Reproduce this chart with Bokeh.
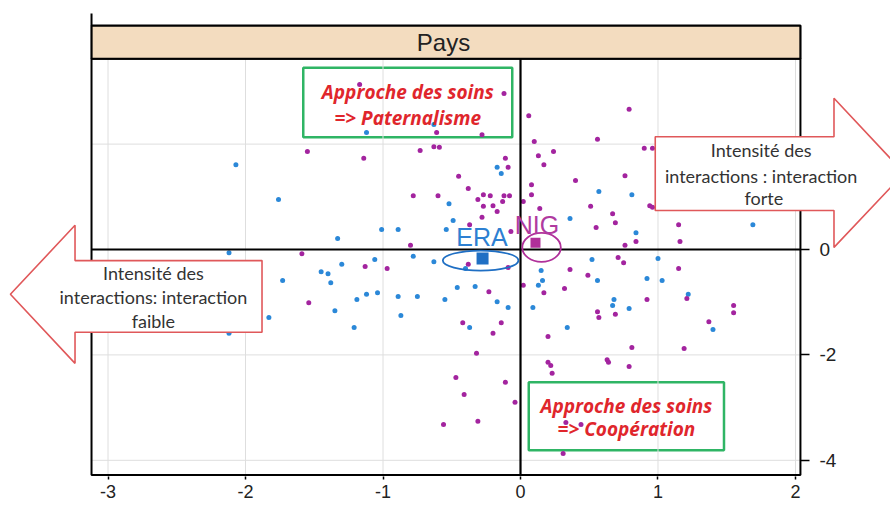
from bokeh.plotting import figure
from bokeh.models import FixedTicker, PolyAnnotation, Label, Range1d, LinearAxis
from bokeh.embed import file_html
from bokeh.resources import INLINE

# ---------------- data ----------------
x_ticks = [-3, -2, -1, 0, 1, 2]
x_tick_labels = ["-3", "-2", "-1", "0", "1", "2"]
y_ticks = [0, -2, -4]
y_tick_labels = ["0", "-2", "-4"]
grid_x = [-3, -2, -1, 1, 2]
grid_y = [2, -2, -4]

blue_x = [-1.12, -0.63, -2.07, -1.76, -0.52, -1.01, -0.89, -0.54, -1.33, -2.12,
          -0.78, -0.17, -0.14, 0.57, 0.81, -0.49, 0.36, 1.69, 0.84, -1.06,
          -0.63, -1.30, -1.45, -1.40, -1.38, -1.73, -1.19, -1.12, -1.04, -0.89,
          -0.75, -0.55, -1.35, -0.87, -1.83, -1.21, -2.12, 0.52, 1.00, 0.15,
          0.16, 0.13, 0.56, 0.92, 1.03, -0.46, -0.33, -0.17, -0.09, 0.09,
          0.68, 0.67, 0.79, 1.22, -0.37, 0.34, 1.40, -0.40]
blue_y = [2.22, 2.37, 1.61, 0.95, 0.87, 0.38, 0.38, 0.38, 0.21, -0.06,
          -0.13, 1.56, 1.44, 1.10, 1.04, 0.55, 0.59, 0.47, 0.32, -0.19,
          -0.23, -0.28, -0.42, -0.46, -0.63, -0.59, -0.95, -0.85, -0.82, -0.89,
          -0.89, -0.95, -1.16, -1.25, -1.29, -1.48, -1.59, -0.19, -0.17, -0.40,
          -0.59, -0.68, -0.59, -0.55, -0.59, -0.72, -0.70, -0.99, -1.10, -1.10,
          -0.95, -1.06, -1.12, -0.85, -1.48, -1.48, -1.52, -0.36]

mag_x = [-1.17, -0.61, -1.55, -1.14, -0.73, -0.63, -0.59, -0.78, -0.60, -0.80,
         -1.59, -0.12, 0.06, 0.79, -0.28, 0.10, 0.56, 0.13, 0.24, 0.90,
         0.96, 0.17, -0.11, -0.09, -0.45, 0.40, 0.76, 0.08, -0.38, -0.27,
         -0.22, -0.12, -0.08, 0.08, -0.31, -0.27, -0.20, -0.17, -0.13, 0.02,
         0.14, 0.51, 0.94, 0.96, -0.28, 0.67, 0.69, 1.15, -0.37, 0.55,
         0.84, 1.16, 0.76, -0.07, -1.13, -0.97, -1.54, -0.56, 0.71, 0.75,
         1.15, 0.36, 0.49, 0.02, 0.17, 0.32, -0.23, 0.92, 1.21, 1.55,
         1.55, 0.56, 0.57, 0.69, -0.42, -0.14, -0.20, 1.37, 0.20, 0.81,
         1.19, -0.32, 0.20, 0.22, 0.23, 0.63, 0.64, 0.79, -0.47, -0.11,
         -0.41, -0.04, -0.31, 0.33, 0.44, 0.31, -0.38, -0.09]
mag_y = [3.13, 2.22, 1.86, 1.73, 1.88, 1.95, 1.94, 1.02, 1.02, 0.08,
         -0.08, 2.96, 2.54, 2.66, 2.18, 2.05, 2.09, 1.78, 1.86, 1.92,
         1.92, 1.61, 1.73, 1.56, 1.39, 1.31, 1.40, 1.23, 1.16, 1.04,
         1.02, 1.02, 1.02, 1.04, 0.95, 0.82, 0.83, 0.72, 0.91, 0.91,
         0.78, 0.82, 0.83, 0.80, 0.61, 0.68, 0.51, 0.47, 0.47, 0.42,
         0.15, 0.15, 0.08, 0.34, -0.32, -0.36, -1.01, -3.32, -0.15, -0.25,
         -0.36, -0.38, -0.49, -0.68, -0.82, -0.74, -0.80, -0.95, -0.93, -1.06,
         -1.20, -1.18, -1.29, -1.23, -1.39, -1.39, -1.59, -1.37, -1.65, -1.86,
         -1.88, -1.97, -2.14, -2.20, -2.35, -2.09, -2.14, -2.22, -2.43, -2.52,
         -2.75, -2.90, -3.26, -3.28, -3.32, -3.87, -0.28, -0.34]

group_names = ["ERA", "NIG"]
group_cx = [-0.276, 0.109]
group_cy = [-0.17, 0.13]
ell_cx = [-0.29, 0.153]
ell_cy = [-0.21, 0.04]
ell_w = [0.55, 0.28]
ell_h = [0.38, 0.55]

# ---------------- styling / layout ----------------
BLUE = "#2b88d8"
MAG = "#a3249f"
BLUE_D = "#1f6fc4"
MAG_D = "#b0309a"
RED_TXT = "#e0262c"
GREEN = "#2fb565"
ARROW_RED = "#e0585a"
GRAY_TXT = "#333333"

# visible canvas range (frame covers whole canvas except bottom axis)
VX0, VX1 = -3.782, 2.691
VY0, VY1 = -4.307, 4.725
# plot box
BX0, BX1 = -3.12, 2.036
BY0, BY1 = -4.28, 3.62
STRIP_TOP = 4.25

p = figure(width=890, height=504, output_backend="svg", toolbar_location=None,
           x_range=Range1d(VX0, VX1), y_range=Range1d(VY0, VY1),
           y_axis_location=None,
           min_border_left=0, min_border_right=0,
           min_border_top=0, min_border_bottom=28)
p.background_fill_color = "white"
p.border_fill_color = "white"
p.outline_line_color = None
p.grid.visible = False

# bottom axis
xa = p.xaxis[0]
xa.ticker = FixedTicker(ticks=x_ticks)
xa.major_label_overrides = dict(zip(x_ticks, x_tick_labels))
xa.axis_line_color = None
xa.minor_tick_line_color = None
xa.major_tick_line_color = "black"
xa.major_tick_line_width = 1.5
xa.major_tick_in = 0
xa.major_tick_out = 3
xa.major_label_standoff = 5
xa.major_label_text_font = "Liberation Sans"
xa.major_label_text_font_size = "18px"
xa.major_label_text_color = "#222222"

# right axis fixed at the plot box edge
ya = LinearAxis(fixed_location=BX1, ticker=FixedTicker(ticks=y_ticks),
                major_label_overrides=dict(zip(y_ticks, y_tick_labels)),
                axis_line_color=None, minor_tick_line_color=None,
                major_tick_line_color="black", major_tick_line_width=1.5,
                major_tick_in=0, major_tick_out=9, major_label_standoff=10,
                major_label_text_font="Liberation Sans",
                major_label_text_font_size="19px",
                major_label_text_color="#222222")
p.add_layout(ya, "right")

# grid lines inside the box
p.segment(x0=grid_x, y0=[BY0] * len(grid_x), x1=grid_x, y1=[BY1] * len(grid_x),
          line_color="#dedede", line_width=1)
p.segment(x0=[BX0] * len(grid_y), y0=grid_y, x1=[BX1] * len(grid_y), y1=grid_y,
          line_color="#dedede", line_width=1)

# green boxes (outline only)
box_pat = ([-1.58, -0.06, -0.06, -1.58], [3.45, 3.45, 2.13, 2.13])
box_coop = ([0.06, 1.48, 1.48, 0.06], [-2.52, -2.52, -3.81, -3.81])
for bx, by in (box_pat, box_coop):
    p.add_layout(PolyAnnotation(xs=bx, ys=by, fill_color=None, fill_alpha=0,
                                line_color=GREEN, line_alpha=1.0, line_width=2.5,
                                level="underlay"))

# points
p.scatter(blue_x, blue_y, size=5, color=BLUE, line_color=None)
p.scatter(mag_x, mag_y, size=5, color=MAG, line_color=None)

# zero lines
p.segment(x0=[0], y0=[BY0], x1=[0], y1=[BY1], line_color="black", line_width=2.2)
p.segment(x0=[BX0], y0=[0], x1=[BX1], y1=[0], line_color="black", line_width=2.2)

# group ellipses and centroids
p.ellipse(x=ell_cx[:1], y=ell_cy[:1], width=ell_w[:1], height=ell_h[:1],
          fill_color=None, line_color=BLUE_D, line_width=1.8)
p.ellipse(x=ell_cx[1:], y=ell_cy[1:], width=ell_w[1:], height=ell_h[1:],
          fill_color=None, line_color=MAG_D, line_width=1.8)
p.scatter(group_cx[:1], group_cy[:1], marker="square", size=12, color=BLUE_D, line_color=None)
p.scatter(group_cx[1:], group_cy[1:], marker="square", size=10, color=MAG_D, line_color=None)

# plot box border
p.add_layout(PolyAnnotation(xs=[BX0, BX1, BX1, BX0], ys=[BY1, BY1, BY0, BY0],
                            fill_alpha=0, line_color="black", line_alpha=1.0,
                            line_width=2))
# strip "Pays"
p.add_layout(PolyAnnotation(xs=[BX0, BX1, BX1, BX0], ys=[STRIP_TOP, STRIP_TOP, BY1, BY1],
                            fill_color="#f3dcbf", fill_alpha=1.0,
                            line_color="black", line_alpha=1.0, line_width=2.2))
p.add_layout(PolyAnnotation(xs=[BX0, BX0], ys=[STRIP_TOP, 4.48], fill_alpha=0,
                            line_color="black", line_alpha=1.0, line_width=2))

# arrows
left_arrow = ([-3.71, -3.24, -3.24, -1.88, -1.88, -3.24, -3.24],
              [-0.85, 0.46, -0.21, -0.21, -1.57, -1.57, -2.16])
right_arrow = ([0.98, 2.28, 2.28, 2.79, 2.28, 2.28, 0.98],
               [2.14, 2.14, 2.87, 1.45, 0.04, 0.74, 0.74])
for ax_, ay_ in (left_arrow, right_arrow):
    p.add_layout(PolyAnnotation(xs=ax_, ys=ay_, fill_color="white", fill_alpha=1.0,
                                line_color=ARROW_RED, line_alpha=1.0, line_width=1.6))


def lab(x, y, text, size, color, font="Lato", style="normal"):
    p.add_layout(Label(x=x, y=y, text=text, text_align="center", text_baseline="middle",
                       text_font=font, text_font_size=size, text_color=color,
                       text_font_style=style))


lab(-0.56, 3.93, "Pays", "24px", "#222222", font="Liberation Sans")

lab(-2.67, -0.44, "Intensité des", "18px", GRAY_TXT)
lab(-2.67, -0.91, "interactions: interaction", "18px", GRAY_TXT)
lab(-2.67, -1.35, "faible", "18px", GRAY_TXT)

lab(1.75, 1.88, "Intensité des", "18px", GRAY_TXT)
lab(1.75, 1.40, "interactions : interaction", "18px", GRAY_TXT)
lab(1.77, 0.97, "forte", "18px", GRAY_TXT)

lab(-0.82, 2.98, "Approche des soins", "19px", RED_TXT, font="Open Sans", style="bold italic")
lab(-0.82, 2.49, "=> Paternalisme", "19px", RED_TXT, font="Open Sans", style="bold italic")
lab(0.77, -2.96, "Approche des soins", "19px", RED_TXT, font="Open Sans", style="bold italic")
lab(0.77, -3.40, "=> Coopération", "19px", RED_TXT, font="Open Sans", style="bold italic")

lab(-0.28, 0.23, group_names[0], "25px", "#2d80d2", font="Liberation Sans")
lab(0.12, 0.47, group_names[1], "25px", "#b03aa0", font="Liberation Sans")

open("out.html", "w").write(file_html(p, INLINE))
